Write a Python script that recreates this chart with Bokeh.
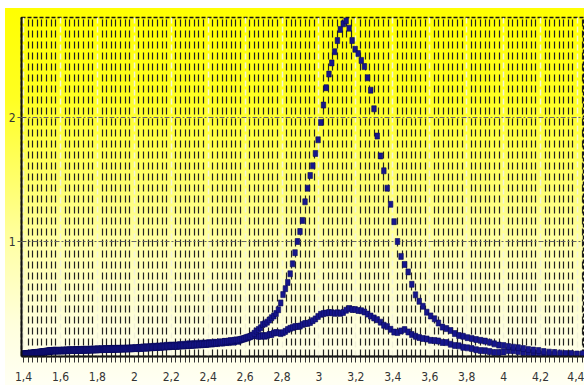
from bokeh.plotting import figure
from bokeh.models import FixedTicker, CustomJSTickFormatter, Range1d, ColumnDataSource
from bokeh.embed import file_html
from bokeh.resources import INLINE

# ---- data ----
# samples are evenly spaced in wavelength (2 nm), plotted against photon energy (eV)
WAVELENGTH_NM = list(range(886, 278, -2))   # 886 ... 280 nm

tall_peak = [
    # 886-800 nm
    0.09, 0.09, 0.09, 0.092, 0.09, 0.09, 0.093, 0.09, 0.092, 0.095,
    0.093, 0.095, 0.095, 0.097, 0.095, 0.098, 0.097, 0.10, 0.098, 0.10,
    0.10, 0.102, 0.10, 0.103, 0.105, 0.103, 0.105, 0.107, 0.105, 0.108,
    0.11, 0.108, 0.11, 0.112, 0.11, 0.113, 0.115, 0.113, 0.115, 0.117, 0.115, 0.118, 0.12, 0.118,
    # 798-690 nm
    0.12, 0.121, 0.119, 0.12, 0.122, 0.12, 0.118, 0.121, 0.12, 0.122, 0.121,
    0.12, 0.122, 0.121, 0.119, 0.12, 0.122, 0.123, 0.121, 0.12, 0.122, 0.124,
    0.122, 0.121, 0.123, 0.124, 0.122, 0.121, 0.123, 0.125, 0.124, 0.122, 0.124,
    0.125, 0.123, 0.124, 0.126, 0.125, 0.123, 0.125, 0.126, 0.124, 0.126, 0.127,
    0.125, 0.126, 0.128, 0.126, 0.125, 0.127, 0.128, 0.126, 0.128, 0.129, 0.127,
    # 688-620 nm
    0.128, 0.13, 0.129, 0.128, 0.13, 0.131, 0.129, 0.13, 0.132, 0.13, 0.131, 0.133,
    0.131, 0.132, 0.134, 0.132, 0.131, 0.133, 0.135, 0.133, 0.132, 0.134, 0.136, 0.134,
    0.133, 0.135, 0.137, 0.135, 0.134, 0.136, 0.138, 0.136, 0.135, 0.137, 0.139,
    # 618-564 nm
    0.14, 0.138, 0.142, 0.145, 0.14, 0.143, 0.147, 0.142, 0.145, 0.148, 0.143, 0.146, 0.15, 0.145,
    0.148, 0.152, 0.146, 0.149, 0.153, 0.148, 0.151, 0.155, 0.15, 0.153, 0.157, 0.152, 0.155, 0.158,
    # 562-518 nm
    0.155, 0.16, 0.157, 0.155, 0.162, 0.158, 0.16, 0.165, 0.16, 0.163, 0.167, 0.162,
    0.165, 0.17, 0.165, 0.168, 0.172, 0.167, 0.17, 0.175, 0.17, 0.173, 0.177,
    # 516-478 nm
    0.175, 0.18, 0.178, 0.183, 0.18, 0.185, 0.19, 0.186, 0.19, 0.195,
    0.192, 0.197, 0.2, 0.198, 0.203, 0.207, 0.205, 0.21, 0.215, 0.218,
    # 476-280 nm
    0.225, 0.23, 0.234, 0.245, 0.26, 0.278, 0.29, 0.305, 0.331, 0.337,
    0.35, 0.367, 0.386, 0.40, 0.42, 0.45, 0.505, 0.572, 0.62, 0.67,
    0.74, 0.82, 0.91, 1.00, 1.08, 1.17, 1.32, 1.43, 1.532, 1.61,
    1.71, 1.82, 1.96, 2.10, 2.24, 2.35, 2.44, 2.53, 2.62, 2.71,
    2.755, 2.78, 2.72, 2.62, 2.55, 2.515, 2.46, 2.41, 2.32, 2.22,
    2.07, 1.85, 1.69, 1.57, 1.43, 1.30, 1.16, 1.00, 0.88, 0.815,
    0.755, 0.655, 0.57, 0.518, 0.478, 0.43, 0.40, 0.377, 0.343, 0.31,
    0.298, 0.282, 0.258, 0.242, 0.236, 0.225, 0.219, 0.21, 0.203, 0.197,
    0.188, 0.175, 0.165, 0.161, 0.153, 0.148, 0.144, 0.137, 0.13, 0.125,
    0.121, 0.113, 0.108, 0.105, 0.10, 0.097, 0.097, 0.093, 0.095,
]

low_peak = [
    # 886-800 nm
    0.095, 0.092, 0.096, 0.09, 0.094, 0.097, 0.092, 0.095, 0.098, 0.094,
    0.097, 0.1, 0.096, 0.099, 0.102, 0.098, 0.1, 0.103, 0.1, 0.102,
    0.105, 0.101, 0.104, 0.107, 0.103, 0.106, 0.109, 0.105, 0.108, 0.11,
    0.107, 0.11, 0.113, 0.109, 0.112, 0.115, 0.111, 0.114, 0.117, 0.113, 0.116, 0.119, 0.116, 0.12,
    # 798-690 nm
    0.117, 0.12, 0.123, 0.118, 0.121, 0.124, 0.119, 0.122, 0.12, 0.117, 0.121,
    0.124, 0.12, 0.118, 0.122, 0.125, 0.121, 0.119, 0.123, 0.126, 0.122, 0.12,
    0.124, 0.127, 0.123, 0.121, 0.125, 0.128, 0.124, 0.122, 0.126, 0.129, 0.125,
    0.123, 0.127, 0.13, 0.126, 0.124, 0.128, 0.131, 0.127, 0.125, 0.129, 0.132,
    0.128, 0.126, 0.13, 0.133, 0.129, 0.127, 0.131, 0.134, 0.13, 0.128, 0.132,
    # 688-620 nm
    0.135, 0.131, 0.129, 0.133, 0.136, 0.132, 0.13, 0.134, 0.137, 0.133, 0.131, 0.135,
    0.138, 0.134, 0.132, 0.136, 0.139, 0.135, 0.133, 0.137, 0.14, 0.136, 0.134, 0.138,
    0.141, 0.137, 0.135, 0.139, 0.142, 0.138, 0.136, 0.14, 0.143, 0.139, 0.141,
    # 618-564 nm
    0.144, 0.14, 0.136, 0.146, 0.141, 0.138, 0.149, 0.143, 0.14, 0.151, 0.145, 0.142, 0.154, 0.147,
    0.144, 0.156, 0.149, 0.146, 0.158, 0.151, 0.148, 0.16, 0.153, 0.15, 0.163, 0.155, 0.152, 0.165,
    # 562-518 nm
    0.158, 0.154, 0.166, 0.16, 0.156, 0.169, 0.162, 0.158, 0.172, 0.164, 0.16, 0.175,
    0.166, 0.162, 0.177, 0.168, 0.165, 0.18, 0.17, 0.167, 0.182, 0.172, 0.17,
    # 516-478 nm
    0.185, 0.176, 0.173, 0.188, 0.179, 0.177, 0.19, 0.182, 0.181, 0.194,
    0.186, 0.185, 0.198, 0.19, 0.19, 0.202, 0.195, 0.205, 0.21, 0.215,
    # 476-280 nm
    0.22, 0.226, 0.232, 0.24, 0.242, 0.242, 0.236, 0.236, 0.242, 0.236,
    0.242, 0.25, 0.25, 0.262, 0.266, 0.264, 0.258, 0.265, 0.276, 0.29,
    0.30, 0.306, 0.314, 0.315, 0.318, 0.33, 0.339, 0.34, 0.347, 0.362,
    0.376, 0.396, 0.413, 0.419, 0.423, 0.427, 0.426, 0.421, 0.425, 0.421,
    0.428, 0.446, 0.46, 0.452, 0.452, 0.444, 0.442, 0.432, 0.415, 0.399,
    0.384, 0.37, 0.35, 0.325, 0.314, 0.292, 0.27, 0.266, 0.279, 0.29,
    0.271, 0.25, 0.236, 0.226, 0.218, 0.214, 0.203, 0.202, 0.198, 0.186,
    0.185, 0.172, 0.162, 0.159, 0.147, 0.143, 0.137, 0.128, 0.121, 0.12,
    0.113, 0.105, 0.105, 0.11, 0.121, 0.12, 0.113, 0.105, 0.105, 0.102,
    0.097, 0.09, 0.089, 0.089, 0.089, 0.089, 0.089, 0.089, 0.089,
]

assert len(tall_peak) == len(WAVELENGTH_NM) == len(low_peak)
energy_ev = [round(1240.0 / w, 4) for w in WAVELENGTH_NM]

x_major_ticks = [1.4, 1.6, 1.8, 2.0, 2.2, 2.4, 2.6, 2.8, 3.0, 3.2, 3.4, 3.6, 3.8, 4.0, 4.2, 4.4]
y_major_ticks = [1, 2]

# ---- figure (offset 5px/8px so the white page shows at top and left) ----
p = figure(
    width=579, height=377,
    x_range=Range1d(1.389, 4.438), y_range=Range1d(0.073, 2.806),
    output_backend="svg", toolbar_location=None,
    min_border_left=15, min_border_right=0, min_border_top=9, min_border_bottom=29,
)
p.background_fill_color = None
p.border_fill_color = None
p.styles = {
    "margin-top": "8px",
    "margin-left": "5px",
    "background": (
        "linear-gradient(to bottom, #ffff00 0%, #ffff22 24%, "
        "#ffff6c 46%, #ffffaa 64%, #ffffdc 84%, #fffff4 100%)"
    ),
}

minor = []
for k in range(len(x_major_ticks)):
    for j in range(1, 8):
        minor.append(round(x_major_ticks[k] + 0.025 * j, 4))

p.xaxis.ticker = FixedTicker(ticks=x_major_ticks, minor_ticks=minor)
p.xaxis.formatter = CustomJSTickFormatter(
    code="var s = (Math.round(tick*10)/10).toString(); return s.replace('.', ',');"
)
p.xaxis.axis_line_width = 2
p.xaxis.axis_line_color = "#111111"
p.xaxis.major_tick_in = 0
p.xaxis.major_tick_out = 6
p.xaxis.minor_tick_in = 0
p.xaxis.minor_tick_out = 6
p.xaxis.major_tick_line_color = "#333333"
p.xaxis.minor_tick_line_color = "#333333"
p.xaxis.major_label_standoff = 9
p.xaxis.major_label_text_font = "Liberation Sans Narrow, DejaVu Sans Condensed, sans-serif"
p.xaxis.major_label_text_font_size = "12px"
p.xaxis.major_label_text_color = "#333333"

p.yaxis.ticker = FixedTicker(ticks=y_major_ticks)
p.yaxis.axis_line_width = 2
p.yaxis.axis_line_color = "#111111"
p.yaxis.major_tick_in = 4
p.yaxis.major_tick_out = 4
p.yaxis.minor_tick_line_color = None
p.yaxis.major_tick_line_color = "#555555"
p.yaxis.major_label_standoff = 2
p.yaxis.major_label_text_font = "Liberation Sans Narrow, DejaVu Sans Condensed, sans-serif"
p.yaxis.major_label_text_font_size = "12px"
p.yaxis.major_label_text_color = "#333333"

p.xgrid.grid_line_color = "#f2f2dc"
p.xgrid.grid_line_width = 1.5
p.xgrid.grid_line_dash = "6 3"
p.xgrid.minor_grid_line_color = "#222222"
p.xgrid.minor_grid_line_width = 1.2
p.xgrid.minor_grid_line_dash = "7 4"

p.ygrid.grid_line_color = "#666666"
p.ygrid.grid_line_width = 1
p.ygrid.grid_line_dash = "5 2 2 2"

p.outline_line_color = "#111111"
p.outline_line_width = 1.5
p.outline_line_dash = "4 2"

src_low = ColumnDataSource(dict(x=energy_ev, y=low_peak))
src_tall = ColumnDataSource(dict(x=energy_ev, y=tall_peak))
for src in (src_low, src_tall):
    p.rect(x="x", y="y", width=4.5, height=6, width_units="screen", height_units="screen",
           source=src, fill_color="#16168c", line_color="#0a0a5a", line_width=0.6)

open("out.html", "w").write(file_html(p, INLINE))
